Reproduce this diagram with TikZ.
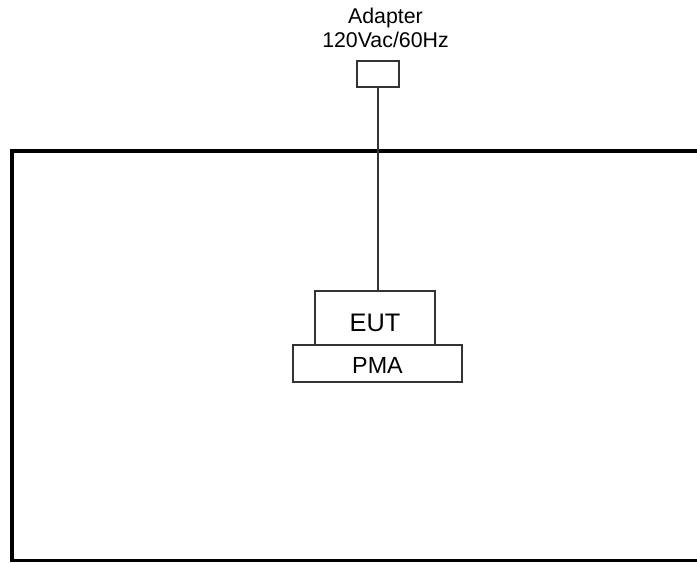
\documentclass[tikz,border=0pt]{standalone}
\usepackage{fontspec}
\setmainfont{Liberation Sans}
\begin{document}
\begin{tikzpicture}[x=0.75pt,y=-0.75pt,
  boxthin/.style={draw=black!80,line width=1.1pt,inner sep=0pt},
  boxmid/.style={draw=black!80,line width=1.5pt,inner sep=0pt},
  wall/.style={draw=black,line width=2.4pt},
  cable/.style={draw=black!80,line width=1.1pt},
  lbl/.style={inner sep=0pt,anchor=base,font=\fontsize{16pt}{19pt}\selectfont}]
\useasboundingbox (0,0) rectangle (697,562);
% chamber
\draw[wall] (697,151) -- (12,151) -- (12,560.5) -- (697,560.5);
% adapter
\node[boxthin,minimum width=31.5pt,minimum height=19.5pt] (adapter) at (378,74) {};
\node[lbl] (adaptername) at (385.5,23) {Adapter};
\node[lbl] (adapterrating) at (385.5,47.5) {120Vac/60Hz};
% EUT and PMA
\node[boxmid,minimum width=90pt,minimum height=40.5pt,
  font=\fontsize{19pt}{22pt}\selectfont,text height=20.4pt,text depth=0pt] (eut) at (375,318) {EUT};
\node[boxmid,minimum width=126.75pt,minimum height=27.75pt,
  font=\fontsize{17.5pt}{21pt}\selectfont,text height=15.5pt,text depth=0pt] (pma) at (377.5,363.5) {PMA};
% cable
\draw[cable] (adapter.south) -- (adapter.south |- eut.north);
\end{tikzpicture}
\end{document}
